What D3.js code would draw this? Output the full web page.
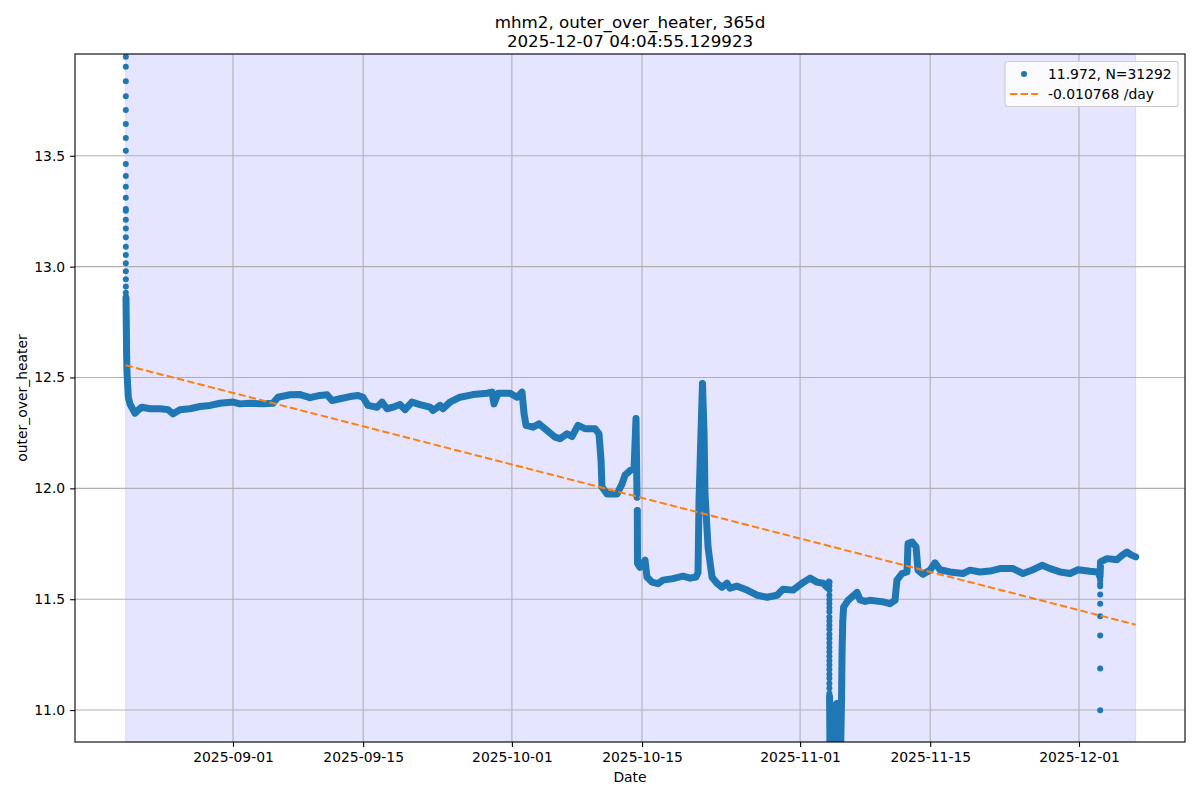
<!DOCTYPE html>
<html>
<head>
<meta charset="utf-8">
<script src="https://cdn.jsdelivr.net/npm/d3@7"></script>
<style>
body { margin: 0; background: #fff; }
text { font-family: "DejaVu Sans", sans-serif; fill: #000; }
</style>
</head>
<body>
<script>
const w = 1200; // width
const h = 800; // height
const m = {top: 54, right: 15, bottom: 58, left: 75};

const title1 = "mhm2, outer_over_heater, 365d";
const title2 = "2025-12-07 04:04:55.129923";
const xLabel = "Date";
const yLabel = "outer_over_heater";

// time is in days since 2025-08-20 00:00 UTC
const t0 = Date.UTC(2025, 7, 20);
const xTicks = ["2025-09-01", "2025-09-15", "2025-10-01", "2025-10-15", "2025-11-01", "2025-11-15", "2025-12-01"];
const yTicks = [11.0, 11.5, 12.0, 12.5, 13.0, 13.5];

// main trace [day, value], null = break in the trace
const trace = [
    [0.49, 12.86], [0.52, 12.75], [0.55, 12.62], [0.60, 12.52], [0.74, 12.41], [0.92, 12.38], [1.10, 12.366],
    [1.46, 12.339], [1.78, 12.352], [2.18, 12.366], [3.07, 12.359], [4.15, 12.359], [5.01, 12.355], [5.55, 12.336],
    [6.30, 12.355], [7.37, 12.359], [8.45, 12.369], [9.53, 12.374], [10.60, 12.384], [12.00, 12.389], [12.75, 12.381],
    [13.83, 12.384], [15.23, 12.381], [16.30, 12.384], [16.84, 12.411], [18.13, 12.422], [19.21, 12.423], [20.28, 12.409],
    [21.36, 12.419], [22.11, 12.422], [22.65, 12.396], [23.51, 12.404], [24.59, 12.414], [25.45, 12.419], [25.98, 12.411],
    [26.52, 12.374], [27.49, 12.366], [28.03, 12.389], [28.57, 12.359], [29.21, 12.366], [29.96, 12.378], [30.50, 12.355],
    [31.25, 12.389], [32.12, 12.378], [33.19, 12.366], [33.51, 12.351], [34.27, 12.374], [34.59, 12.359], [35.34, 12.389],
    [36.42, 12.411], [37.82, 12.423], [39.32, 12.429], [39.86, 12.434], [40.08, 12.381], [40.51, 12.429], [41.80, 12.429],
    [42.55, 12.411], [43.09, 12.434], [43.31, 12.336], [43.52, 12.284], [44.27, 12.276], [44.92, 12.291], [45.78, 12.261],
    [46.64, 12.231], [47.18, 12.224], [47.93, 12.246], [48.47, 12.234], [49.11, 12.284], [49.87, 12.269], [50.94, 12.269],
    [51.37, 12.246], [51.59, 12.126], [51.69, 12.006], [52.23, 11.975], [53.31, 11.975], [53.85, 12.02], [54.17, 12.06],
    [54.71, 12.08], [55.14, 12.09], [55.35, 12.315], [55.46, 11.96], [55.47, null], [55.49, 11.90], [55.51, 11.662],
    [55.78, 11.644], [56.32, 11.676], [56.53, 11.60], [57.07, 11.577], [57.72, 11.570], [58.25, 11.586], [59.33, 11.593],
    [60.41, 11.604], [61.16, 11.595], [61.80, 11.60], [62.02, 11.62], [62.13, 11.95], [62.34, 12.25], [62.50, 12.473],
    [62.67, 12.25], [62.77, 11.977], [63.10, 11.734], [63.53, 11.599], [64.06, 11.572], [64.60, 11.554], [65.14, 11.572],
    [65.46, 11.550], [66.22, 11.559], [67.29, 11.541], [68.37, 11.518], [69.44, 11.509], [70.52, 11.518], [71.16, 11.545],
    [72.24, 11.541], [73.21, 11.572], [74.07, 11.595], [74.82, 11.577], [75.47, 11.572], [75.90, 11.554], [76.11, 11.577],
    [76.14, null], [76.17, 11.06], [76.22, 10.80], [76.44, 11.02], [76.65, 10.95], [76.81, 10.80], [76.97, 11.03],
    [77.19, 10.90], [77.35, 10.80], [77.46, 11.05], [77.51, 11.25], [77.59, 11.40], [77.68, 11.464], [78.16, 11.495],
    [78.70, 11.515], [79.13, 11.53], [79.45, 11.497], [79.99, 11.49], [80.52, 11.495], [81.92, 11.488], [82.67, 11.480],
    [83.21, 11.495], [83.42, 11.586], [83.96, 11.616], [84.50, 11.623], [84.61, 11.751], [85.04, 11.758], [85.47, 11.736],
    [85.68, 11.631], [86.22, 11.613], [86.97, 11.631], [87.51, 11.664], [88.05, 11.633], [89.12, 11.623], [90.52, 11.616],
    [91.28, 11.631], [92.35, 11.623], [93.43, 11.627], [94.51, 11.638], [95.91, 11.638], [96.98, 11.616], [98.06, 11.633],
    [99.03, 11.653], [99.89, 11.638], [100.96, 11.623], [102.04, 11.616], [102.90, 11.633], [104.19, 11.626], [105.05, 11.623],
    [105.26, 11.60], [105.32, 11.668], [106.02, 11.683], [107.09, 11.678], [107.63, 11.698], [108.17, 11.713], [108.60, 11.70],
    [109.10, 11.691]
];

// isolated samples during fast transitions (same day each)
const augBurstDay = 0.47;
const augBurst = [13.947, 13.901, 13.836, 13.769, 13.706, 13.643, 13.580, 13.523, 13.463, 13.409, 13.360, 13.311,
    13.260, 13.252, 13.212, 13.172, 13.132, 13.090, 13.053, 13.015, 12.979, 12.943, 12.910, 12.882];
const novBurstDay = 76.15;
const novBurst = [11.56, 11.54, 11.518, 11.499, 11.481, 11.461, 11.443, 11.420, 11.402, 11.383, 11.364, 11.342,
    11.323, 11.303, 11.282, 11.263, 11.243, 11.222, 11.203, 11.183, 11.162, 11.143, 11.120, 11.098, 11.075];
const decBurstDay = 105.28;
const decBurst = [11.585, 11.57, 11.559, 11.521, 11.480, 11.423, 11.336, 11.188, 10.999];

const spanDays = [0.45, 109.10];
const meanLabel = "11.972, N=31292";
const trendLabel = "-0.010768 /day";
const trendStart = 12.555; // value of the fit at spanDays[0]
const trendSlope = -0.010768; // per day

const blue = "#1f77b4";
const orange = "#ff7f0e";
const toDate = (d) => new Date(t0 + d * 864e5);

let svg = d3.select("body")
    .append("svg")
    .attr('width', w)
    .attr('height', h);

let x = d3.scaleUtc()
    .domain([new Date(Date.UTC(2025, 7, 15, 0, 7)), new Date(Date.UTC(2025, 11, 12, 9, 40))])
    .range([m.left, w - m.right]);

let y = d3.scaleLinear()
    .domain([10.856, 13.959])
    .range([h - m.bottom, m.top]);

svg.append("clipPath").attr("id", "plot")
    .append("rect")
    .attr("x", m.left).attr("y", m.top)
    .attr("width", w - m.left - m.right)
    .attr("height", h - m.top - m.bottom);

// shaded span
svg.append("rect")
    .attr("x", x(toDate(spanDays[0])))
    .attr("y", m.top)
    .attr("width", x(toDate(spanDays[1])) - x(toDate(spanDays[0])))
    .attr("height", h - m.top - m.bottom)
    .attr("fill", "rgba(0,0,255,0.1)")
    .attr("stroke", "rgba(0,0,255,0.1)")
    .attr("stroke-width", 1);

// grid
const xTickDates = xTicks.map((s) => new Date(s + "T00:00:00Z"));
svg.append("g").selectAll("line")
    .data(xTickDates)
    .enter().append("line")
    .attr("x1", (d) => x(d)).attr("x2", (d) => x(d))
    .attr("y1", m.top).attr("y2", h - m.bottom)
    .attr("stroke", "#b0b0b0").attr("stroke-width", 1.1);
svg.append("g").selectAll("line")
    .data(yTicks)
    .enter().append("line")
    .attr("x1", m.left).attr("x2", w - m.right)
    .attr("y1", (d) => y(d)).attr("y2", (d) => y(d))
    .attr("stroke", "#b0b0b0").attr("stroke-width", 1.1);

// data
let plot = svg.append("g").attr("clip-path", "url(#plot)");

let line = d3.line()
    .defined((d) => d[1] !== null)
    .x((d) => x(toDate(d[0])))
    .y((d) => y(d[1]));

plot.append("path")
    .datum(trace)
    .attr("d", line)
    .attr("fill", "none")
    .attr("stroke", blue)
    .attr("stroke-width", 7)
    .attr("stroke-linejoin", "round")
    .attr("stroke-linecap", "round");

let dots = trace.filter((d) => d[1] !== null)
    .concat(augBurst.map((v) => [augBurstDay, v]))
    .concat(novBurst.map((v) => [novBurstDay, v]))
    .concat(decBurst.map((v) => [decBurstDay, v]));

plot.selectAll("circle")
    .data(dots)
    .enter()
    .append("circle")
    .attr("cx", (d) => x(toDate(d[0])))
    .attr("cy", (d) => y(d[1]))
    .attr("r", 3)
    .attr("fill", blue);

// linear fit
plot.append("line")
    .attr("x1", x(toDate(spanDays[0])))
    .attr("y1", y(trendStart))
    .attr("x2", x(toDate(spanDays[1])))
    .attr("y2", y(trendStart + trendSlope * (spanDays[1] - spanDays[0])))
    .attr("stroke", orange)
    .attr("stroke-width", 2)
    .attr("stroke-dasharray", "7.4,3.2");

// axes
let axisX = d3.axisBottom(x)
    .tickValues(xTickDates)
    .tickFormat(d3.utcFormat("%Y-%m-%d"))
    .tickSize(4.9)
    .tickPadding(4.9);
let gX = svg.append("g")
    .attr("transform", `translate(0,${h - m.bottom})`)
    .call(axisX);

let axisY = d3.axisLeft(y)
    .tickValues(yTicks)
    .tickFormat(d3.format(".1f"))
    .tickSize(4.9)
    .tickPadding(4.9);
let gY = svg.append("g")
    .attr("transform", `translate(${m.left},0)`)
    .call(axisY);

[gX, gY].forEach((g) => {
    g.select(".domain").remove();
    g.selectAll(".tick line").attr("stroke", "#000").attr("stroke-width", 1.1);
    g.selectAll(".tick text")
        .style("font-family", '"DejaVu Sans", sans-serif')
        .style("font-size", "13.9px");
});

// frame
svg.append("rect")
    .attr("x", m.left).attr("y", m.top)
    .attr("width", w - m.left - m.right)
    .attr("height", h - m.top - m.bottom)
    .attr("fill", "none")
    .attr("stroke", "#000")
    .attr("stroke-width", 1.1);

// titles and labels
svg.append("text")
    .attr("text-anchor", "middle")
    .attr("x", (m.left + w - m.right) / 2)
    .attr("y", 27.5)
    .style("font-size", "16.7px")
    .text(title1);
svg.append("text")
    .attr("text-anchor", "middle")
    .attr("x", (m.left + w - m.right) / 2)
    .attr("y", 46.5)
    .style("font-size", "16.7px")
    .text(title2);

svg.append("text")
    .attr("text-anchor", "middle")
    .attr("x", (m.left + w - m.right) / 2)
    .attr("y", 782)
    .style("font-size", "13.9px")
    .text(xLabel);

svg.append("text")
    .attr("text-anchor", "middle")
    .attr("transform", `translate(27,${(m.top + h - m.bottom) / 2}) rotate(-90)`)
    .style("font-size", "13.9px")
    .text(yLabel);

// legend
let legend = svg.append("g");
legend.append("rect")
    .attr("x", 1005).attr("y", 61.5)
    .attr("width", 173).attr("height", 45)
    .attr("rx", 2.8)
    .attr("fill", "rgba(255,255,255,0.8)")
    .attr("stroke", "#cccccc")
    .attr("stroke-width", 1.1);
legend.append("circle")
    .attr("cx", 1024).attr("cy", 74)
    .attr("r", 3)
    .attr("fill", blue);
legend.append("text")
    .attr("x", 1048).attr("y", 78.5)
    .style("font-size", "13.9px")
    .text(meanLabel);
legend.append("line")
    .attr("x1", 1010).attr("x2", 1038)
    .attr("y1", 94).attr("y2", 94)
    .attr("stroke", orange)
    .attr("stroke-width", 2)
    .attr("stroke-dasharray", "7.4,3.2");
legend.append("text")
    .attr("x", 1048).attr("y", 99)
    .style("font-size", "13.9px")
    .text(trendLabel);
</script>
</body>
</html>
